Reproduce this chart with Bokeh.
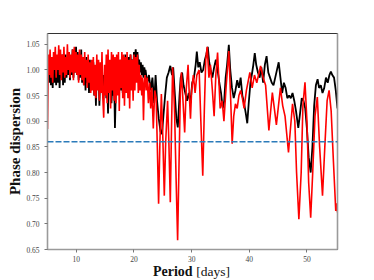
from bokeh.plotting import figure
from bokeh.layouts import column
from bokeh.models import Range1d, LinearAxis, Span, FixedTicker, PrintfTickFormatter, Div
from bokeh.embed import file_html
from bokeh.resources import INLINE

# ---- data ----
noisy_period = [5.00, 5.15, 5.30, 5.45, 5.60, 5.75, 5.90, 6.05, 6.20, 6.35, 6.50, 6.65, 6.80, 6.95,
                7.10, 7.25, 7.40, 7.55, 7.70, 7.85, 8.00, 8.15, 8.30, 8.45, 8.60, 8.75, 8.90, 9.05,
                9.20, 9.35, 9.50, 9.65, 9.80, 9.95, 10.10, 10.25, 10.40, 10.55, 10.70, 10.85, 11.00,
                11.15, 11.30, 11.45, 11.60, 11.75, 11.90, 12.05, 12.20, 12.35, 12.50, 12.65, 12.80,
                12.95, 13.10, 13.25, 13.40, 13.55, 13.70, 13.85, 14.00, 14.15, 14.30, 14.45, 14.60,
                14.75, 14.90, 15.05, 15.20, 15.35, 15.50, 15.65, 15.80, 15.95, 16.10, 16.25, 16.40,
                16.55, 16.70, 16.85, 17.00, 17.15, 17.30, 17.45, 17.60, 17.75, 17.90, 18.05, 18.20,
                18.35, 18.50, 18.65, 18.80, 18.95, 19.10, 19.25, 19.40, 19.55, 19.70, 19.85, 20.00,
                20.15, 20.30, 20.45, 20.60, 20.75, 20.90, 21.05, 21.20, 21.35, 21.50, 21.65, 21.80, 21.95]

black_noisy = [1.000, 1.020, 0.975, 1.025, 0.970, 1.010, 0.965, 1.015, 0.975, 1.020, 0.970, 1.010,
               0.975, 1.025, 0.965, 1.015, 0.985, 1.030, 0.970, 1.020, 0.975, 1.030, 0.985, 1.015,
               0.990, 1.035, 0.980, 1.025, 0.990, 1.040, 0.985, 1.030, 0.995, 1.045, 0.990, 1.035,
               0.980, 1.030, 0.985, 1.040, 0.975, 1.025, 0.970, 1.020, 0.960, 1.025, 0.975, 1.015,
               0.955, 1.020, 0.960, 1.005, 0.975, 1.015, 0.950, 1.000, 0.930, 1.005, 0.965, 1.010,
               0.930, 0.995, 0.960, 1.005, 0.950, 0.990, 0.960, 1.000, 0.945, 0.985, 0.915, 0.990,
               0.955, 1.000, 0.935, 0.975, 0.950, 0.990, 0.887, 0.960, 1.000, 0.955, 1.010, 0.965,
               1.020, 0.960, 1.015, 0.955, 1.020, 0.965, 1.030, 0.975, 1.020, 0.965, 1.025, 0.975,
               1.030, 0.990, 1.020, 1.000, 1.035, 1.020, 1.040, 1.015, 1.035, 1.010, 1.020, 0.995,
               1.015, 0.990, 1.010, 0.985, 1.005, 0.990]

red_noisy = [0.885, 1.030, 0.990, 1.040, 0.985, 1.025, 0.975, 1.035, 1.000, 1.045, 0.985, 1.030,
             1.000, 1.048, 0.990, 1.040, 0.980, 1.030, 0.995, 1.045, 0.985, 1.025, 0.990, 1.050,
             1.000, 1.035, 0.985, 1.030, 0.995, 1.040, 0.980, 1.045, 0.995, 1.035, 0.990, 1.030,
             0.975, 1.040, 0.990, 1.030, 0.980, 1.025, 0.970, 1.035, 0.985, 1.020, 0.965, 1.030,
             0.975, 1.015, 0.955, 1.020, 0.960, 1.025, 0.950, 1.010, 0.945, 1.030, 0.960, 1.020,
             0.940, 1.015, 0.955, 1.035, 0.945, 0.907, 1.010, 0.950, 1.030, 0.935, 1.040, 0.955,
             1.020, 0.925, 1.035, 0.960, 1.030, 0.940, 1.025, 0.935, 1.030, 0.950, 1.035, 0.920,
             1.020, 0.965, 1.035, 0.945, 1.030, 0.930, 1.025, 0.955, 1.035, 0.945, 1.020, 0.925,
             1.030, 0.960, 1.020, 0.940, 1.030, 0.960, 1.025, 0.975, 1.030, 0.955, 1.010, 0.960,
             0.990, 0.950, 0.985, 0.902, 0.975, 0.990]

black_period_tail = [22.00, 22.30, 22.60, 22.90, 23.20, 23.50, 23.75, 24.00, 24.30, 24.60, 24.85,
                     25.10, 25.40, 25.70, 26.00, 26.30, 26.60, 26.80, 27.10, 27.35, 27.60, 27.90,
                     28.10, 28.35, 28.60, 28.90, 29.20, 29.50, 29.80, 30.10, 30.40, 30.70, 30.90,
                     31.15, 31.40, 31.70, 32.00, 32.30, 32.55, 32.80, 33.05, 33.30, 33.60, 33.90,
                     34.20, 34.50, 34.80, 35.10, 35.40, 35.65, 35.90, 36.15, 36.45, 36.70, 37.00,
                     37.30, 37.60, 37.90, 38.20, 38.50, 38.80, 39.10, 39.40, 39.65, 39.90, 40.20,
                     40.50, 40.70, 40.95, 41.20, 41.50, 41.80, 42.10, 42.40, 42.70, 43.00, 43.30,
                     43.60, 43.90, 44.20, 44.50, 44.80, 45.10, 45.40, 45.70, 46.00, 46.30, 46.60,
                     46.90, 47.20, 47.50, 47.80, 48.10, 48.50, 48.80, 49.10, 49.40, 49.70, 50.00,
                     50.30, 50.65, 50.95, 51.25, 51.55, 51.85, 52.10, 52.40, 52.70, 53.00, 53.30,
                     53.60, 53.90, 54.15, 54.40, 54.70, 55.00, 55.30]
black_value_tail = [1.000, 0.975, 0.990, 0.960, 0.985, 0.935, 0.990, 0.940, 0.905, 0.880, 0.875,
                    0.910, 0.950, 0.985, 0.995, 1.008, 0.990, 1.005, 0.950, 0.905, 0.888, 0.950,
                    0.985, 0.995, 0.970, 0.955, 0.940, 0.955, 0.935, 0.975, 0.985, 1.010, 1.036,
                    1.005, 1.015, 0.995, 1.000, 1.020, 1.030, 1.045, 1.015, 1.000, 0.985, 1.005,
                    1.020, 1.000, 0.975, 0.955, 0.925, 0.940, 0.985, 1.010, 1.049, 1.000, 0.965,
                    0.945, 0.960, 0.980, 0.965, 0.985, 0.950, 0.935, 0.915, 0.896, 0.935, 0.975,
                    0.995, 1.010, 1.033, 1.010, 0.995, 0.985, 1.005, 0.975, 1.010, 1.027, 0.995,
                    0.985, 0.975, 0.970, 0.985, 1.000, 1.015, 0.985, 0.955, 0.975, 0.965, 0.945,
                    0.950, 0.945, 0.955, 0.940, 0.920, 0.887, 0.915, 0.945, 0.940, 0.925, 0.885,
                    0.830, 0.800, 0.850, 0.930, 0.970, 0.982, 0.965, 0.970, 0.955, 0.965, 0.985,
                    0.975, 0.990, 0.997, 0.990, 0.985, 0.960, 0.925]

red_period_tail = [22.10, 22.30, 22.50, 22.70, 22.90, 23.10, 23.35, 23.60, 23.85, 24.05, 24.27,
                   24.50, 24.75, 25.00, 25.26, 25.50, 25.83, 26.05, 26.30, 26.50, 26.70, 26.90,
                   27.05, 27.30, 27.57, 27.85, 28.05, 28.22, 28.50, 28.79, 29.05, 29.38, 29.60,
                   29.80, 30.00, 30.30, 30.60, 30.90, 31.30, 31.60, 31.93, 32.20, 32.45, 32.70,
                   33.00, 33.26, 33.60, 33.90, 34.20, 34.50, 34.95, 35.30, 35.60, 36.00, 36.45,
                   36.75, 37.03, 37.30, 37.60, 37.90, 38.20, 38.50, 38.80, 39.10, 39.50, 40.10,
                   40.50, 40.90, 41.30, 41.96, 42.40, 42.83, 43.40, 44.00, 44.70, 45.40, 45.80,
                   46.20, 46.80, 47.50, 47.90, 48.20, 48.60, 49.00, 49.30, 49.66, 50.00, 50.30,
                   50.65, 51.00, 51.40, 51.80, 52.20, 52.70, 53.10, 53.50, 53.84, 54.20, 54.60,
                   55.00, 55.17, 55.30]
red_value_tail = [0.960, 0.985, 0.935, 0.975, 0.925, 0.965, 0.886, 0.960, 0.945, 0.850, 0.739,
                  0.860, 0.953, 0.870, 0.755, 0.860, 0.940, 0.860, 0.742, 0.880, 1.005, 0.960,
                  0.915, 0.790, 0.668, 0.840, 0.960, 0.995, 0.940, 0.878, 0.960, 1.010, 0.950,
                  0.905, 0.960, 0.990, 0.955, 0.990, 1.000, 0.900, 0.794, 0.920, 1.020, 1.045,
                  0.985, 1.010, 0.960, 0.910, 0.990, 1.034, 0.925, 0.940, 0.900, 0.970, 1.037,
                  0.950, 0.856, 0.910, 0.934, 0.925, 0.950, 0.960, 0.945, 0.925, 0.960, 0.995,
                  0.965, 0.990, 0.975, 1.008, 0.985, 0.970, 0.882, 0.956, 0.893, 0.965, 0.930,
                  0.910, 0.839, 0.934, 0.900, 0.800, 0.709, 0.800, 0.930, 0.976, 0.900, 0.780,
                  0.712, 0.800, 0.910, 0.947, 0.850, 0.755, 0.850, 0.940, 0.960, 0.920, 0.820,
                  0.725, 0.740, 0.722]

black_period = noisy_period + black_period_tail
black_value = black_noisy + black_value_tail
red_period = noisy_period + red_period_tail
red_value = red_noisy + red_value_tail

threshold = 0.86
x_ticks = [10, 20, 30, 40, 50]
y_ticks = [0.65, 0.70, 0.75, 0.80, 0.85, 0.90, 0.95, 1.00, 1.05]

# ---- figure ----
p = figure(width=358, height=264, output_backend="svg", toolbar_location=None,
           x_range=Range1d(5, 55.3), y_range=Range1d(0.65, 1.071),
           min_border_left=47, min_border_right=21, min_border_top=33, min_border_bottom=15,
           margin=0)
p.grid.visible = False
p.outline_line_color = "#333333"
p.outline_line_width = 1
p.background_fill_color = "white"
p.border_fill_color = "white"

for ax in (p.xaxis[0], p.yaxis[0]):
    ax.axis_line_color = "#9a9a9a"
    ax.axis_line_width = 1.6
    ax.major_tick_line_color = "#777777"
    ax.major_tick_in = 0
    ax.major_tick_out = 3
    ax.minor_tick_line_color = None
    ax.major_label_text_font = "Liberation Serif"
    ax.major_label_text_font_size = "7.5px"
    ax.major_label_text_color = "#444444"

p.xaxis.ticker = FixedTicker(ticks=x_ticks)
p.yaxis.ticker = FixedTicker(ticks=y_ticks)
p.yaxis.formatter = PrintfTickFormatter(format="%.2f")
p.yaxis.major_label_standoff = 5
p.xaxis.major_label_standoff = 3

p.yaxis.axis_label = "Phase dispersion"
p.yaxis.axis_label_text_font = "Liberation Serif"
p.yaxis.axis_label_text_font_style = "bold"
p.yaxis.axis_label_text_font_size = "15px"
p.yaxis.axis_label_text_color = "#111111"
p.yaxis.axis_label_standoff = 0

right = LinearAxis(ticker=FixedTicker(ticks=[]), major_label_text_color=None,
                   major_tick_line_color=None, minor_tick_line_color=None,
                   major_tick_out=0, major_label_standoff=0,
                   axis_line_color="#9a9a9a", axis_line_width=1.6)
p.add_layout(right, "right")

p.line(black_period, black_value, line_color="black", line_width=1.8)
p.line(red_period, red_value, line_color="red", line_width=1.6)

p.add_layout(Span(location=threshold, dimension="width", line_color="#2b7bba",
                  line_dash="6 2", line_width=1.5))

xlabel = Div(text='<div style="padding-left:153px; font-family:\'Liberation Serif\'; '
                  'font-size:14px; line-height:16px; white-space:nowrap; color:#111111">'
                  '<b>Period</b> <span style="font-size:13.5px">[days]</span></div>',
             width=358, height=16, margin=0)

layout = column(p, xlabel, spacing=0)

open("out.html", "w").write(file_html(layout, INLINE))
